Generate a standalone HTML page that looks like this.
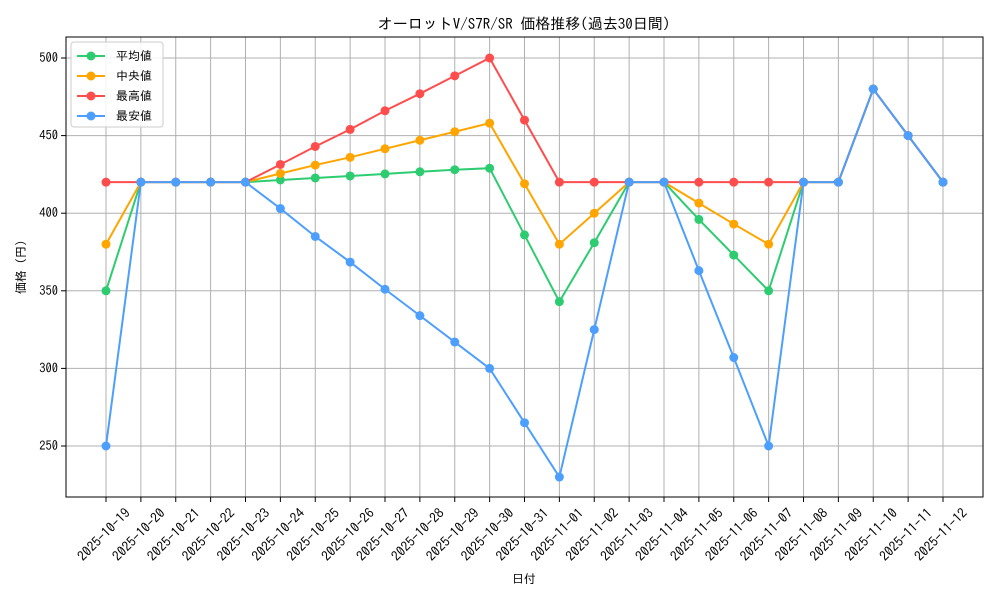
<!DOCTYPE html>
<html><head><meta charset="utf-8"><style>
body{margin:0;background:#fff}
svg{display:block;font-family:"IPAGothic","Liberation Mono","Noto Sans CJK JP",monospace}
</style></head><body>
<svg id="s" width="1000" height="600" xmlns="http://www.w3.org/2000/svg">
<rect width="1000" height="600" fill="#fff"/>
<g id="grid" stroke="#b0b0b0" stroke-width="1"></g>
<rect x="66" y="37" width="917" height="460" fill="none" stroke="#000" stroke-width="1"/>
<g id="series"></g>
<text x="524" y="29" text-anchor="middle" font-size="15">オーロットV/S7R/SR 価格推移(過去30日間)</text>
<g font-size="12.5" text-anchor="end">
<text x="58" y="450">250</text><text x="58" y="372.4">300</text><text x="58" y="294.8">350</text>
<text x="58" y="217.2">400</text><text x="58" y="139.6">450</text><text x="58" y="62">500</text>
</g>
<text transform="translate(25,267) rotate(-90)" font-size="12" text-anchor="middle">価格 (円)</text>
<text x="524" y="583" font-size="12" text-anchor="middle">日付</text>
<g font-size="13.5" text-anchor="end">
<text transform="translate(131,514) rotate(-45)">2025-10-19</text>
<text transform="translate(165.9,514) rotate(-45)">2025-10-20</text>
<text transform="translate(200.75,514) rotate(-45)">2025-10-21</text>
<text transform="translate(235.6,514) rotate(-45)">2025-10-22</text>
<text transform="translate(270.5,514) rotate(-45)">2025-10-23</text>
<text transform="translate(305.4,514) rotate(-45)">2025-10-24</text>
<text transform="translate(340.25,514) rotate(-45)">2025-10-25</text>
<text transform="translate(375.1,514) rotate(-45)">2025-10-26</text>
<text transform="translate(410,514) rotate(-45)">2025-10-27</text>
<text transform="translate(444.9,514) rotate(-45)">2025-10-28</text>
<text transform="translate(479.75,514) rotate(-45)">2025-10-29</text>
<text transform="translate(514.6,514) rotate(-45)">2025-10-30</text>
<text transform="translate(549.5,514) rotate(-45)">2025-10-31</text>
<text transform="translate(584.4,514) rotate(-45)">2025-11-01</text>
<text transform="translate(619.25,514) rotate(-45)">2025-11-02</text>
<text transform="translate(654.1,514) rotate(-45)">2025-11-03</text>
<text transform="translate(689,514) rotate(-45)">2025-11-04</text>
<text transform="translate(723.9,514) rotate(-45)">2025-11-05</text>
<text transform="translate(758.75,514) rotate(-45)">2025-11-06</text>
<text transform="translate(793.6,514) rotate(-45)">2025-11-07</text>
<text transform="translate(828.5,514) rotate(-45)">2025-11-08</text>
<text transform="translate(863.4,514) rotate(-45)">2025-11-09</text>
<text transform="translate(898.25,514) rotate(-45)">2025-11-10</text>
<text transform="translate(933.1,514) rotate(-45)">2025-11-11</text>
<text transform="translate(968,514) rotate(-45)">2025-11-12</text>
</g>
<rect x="71" y="42" width="92" height="85" rx="3" fill="#fff" fill-opacity="0.85" stroke="#ccc"/>
<g stroke-width="2">
<line x1="77" y1="56" x2="105" y2="56" stroke="#2ecc71"/><circle cx="91" cy="56" r="4.5" fill="#2ecc71"/>
<line x1="77" y1="76" x2="105" y2="76" stroke="#ffa500"/><circle cx="91" cy="76" r="4.5" fill="#ffa500"/>
<line x1="77" y1="96" x2="105" y2="96" stroke="#ff4d4d"/><circle cx="91" cy="96" r="4.5" fill="#ff4d4d"/>
<line x1="77" y1="116" x2="105" y2="116" stroke="#4d9fff"/><circle cx="91" cy="116" r="4.5" fill="#4d9fff"/>
</g>
<g font-size="12"><text x="116" y="60">平均値</text><text x="116" y="80">中央値</text><text x="116" y="100">最高値</text><text x="116" y="120">最安値</text></g>
</svg>
<script>
var ns="http://www.w3.org/2000/svg";
function X(i){return 106+34.875*i}
function Y(v){return 58+(500-v)*1.552}
var g=document.getElementById("grid");
for(var i=0;i<25;i++){var l=document.createElementNS(ns,"line");l.setAttribute("x1",X(i));l.setAttribute("x2",X(i));l.setAttribute("y1",37);l.setAttribute("y2",497);g.appendChild(l);
var t=document.createElementNS(ns,"line");t.setAttribute("x1",X(i));t.setAttribute("x2",X(i));t.setAttribute("y1",497);t.setAttribute("y2",502);t.setAttribute("stroke","#000");g.appendChild(t);}
[250,300,350,400,450,500].forEach(function(v){var l=document.createElementNS(ns,"line");l.setAttribute("x1",66);l.setAttribute("x2",983);l.setAttribute("y1",Y(v));l.setAttribute("y2",Y(v));g.appendChild(l);
var t=document.createElementNS(ns,"line");t.setAttribute("x1",61);t.setAttribute("x2",66);t.setAttribute("y1",Y(v));t.setAttribute("y2",Y(v));t.setAttribute("stroke","#000");g.appendChild(t);});
var S=[
["#2ecc71",[350,420,420,420,420,421.4,422.7,424,425.3,426.7,428,429,386,343,381,420,420,396,373,350,420,420,480,450,420]],
["#ffa500",[380,420,420,420,420,425.6,431,436,441.5,447,452.5,458,419,380,400,420,420,406.5,393,380,420,420,480,450,420]],
["#ff4d4d",[420,420,420,420,420,431.4,443,454,466,477,488.5,500,460,420,420,420,420,420,420,420,420,420,480,450,420]],
["#4d9fff",[250,420,420,420,420,403,385,368.5,351,334,317,300,265,230,325,420,420,363,307,250,420,420,480,450,420]]];
var sg=document.getElementById("series");
S.forEach(function(s){var p=document.createElementNS(ns,"polyline");p.setAttribute("points",s[1].map(function(v,i){return X(i)+","+Y(v)}).join(" "));
p.setAttribute("fill","none");p.setAttribute("stroke",s[0]);p.setAttribute("stroke-width",2);sg.appendChild(p);
s[1].forEach(function(v,i){var c=document.createElementNS(ns,"circle");c.setAttribute("cx",X(i));c.setAttribute("cy",Y(v));c.setAttribute("r",4.5);c.setAttribute("fill",s[0]);sg.appendChild(c);});});
</script>
</body></html>
